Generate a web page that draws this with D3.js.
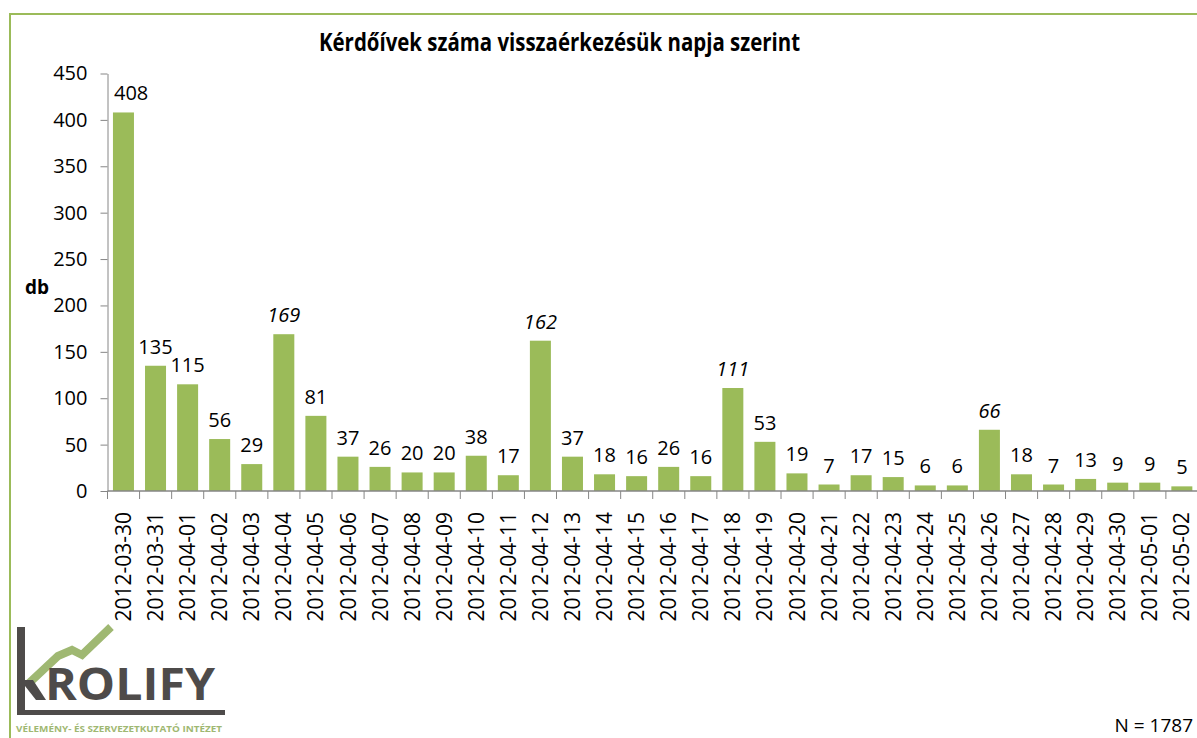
<!DOCTYPE html>
<html>
<head>
<meta charset="utf-8">
<script src="https://cdn.jsdelivr.net/npm/d3@7"></script>
<style>
  body { margin: 0; background: #fff; }
  svg { display: block; font-family: "Open Sans", "Liberation Sans", sans-serif; }
</style>
</head>
<body>
<script>
// napok es a visszaerkezett kerdoivek szama
let dates = ['2012-03-30', '2012-03-31', '2012-04-01', '2012-04-02', '2012-04-03', '2012-04-04',
    '2012-04-05', '2012-04-06', '2012-04-07', '2012-04-08', '2012-04-09', '2012-04-10',
    '2012-04-11', '2012-04-12', '2012-04-13', '2012-04-14', '2012-04-15', '2012-04-16',
    '2012-04-17', '2012-04-18', '2012-04-19', '2012-04-20', '2012-04-21', '2012-04-22',
    '2012-04-23', '2012-04-24', '2012-04-25', '2012-04-26', '2012-04-27', '2012-04-28',
    '2012-04-29', '2012-04-30', '2012-05-01', '2012-05-02'];
let counts = [408, 135, 115, 56, 29, 169, 81, 37, 26, 20, 20, 38, 17, 162, 37, 18, 16, 26,
    16, 111, 53, 19, 7, 17, 15, 6, 6, 66, 18, 7, 13, 9, 9, 5];
// dolt betuvel irt cimkek
let italicDates = ['2012-04-04', '2012-04-12', '2012-04-18', '2012-04-26'];
let yTicks = [0, 50, 100, 150, 200, 250, 300, 350, 400, 450];

let data = dates.map(function (d, i) {
    return {date: d, value: counts[i]};
});

let width = 1197, height = 738;
let green = '#9bbb59';

let svg = d3.select('body').append('svg')
    .attr('width', width)
    .attr('height', height);

// keret
svg.append('rect')
    .attr('x', 10).attr('y', 14)
    .attr('width', 1240).attr('height', 800)
    .attr('fill', 'none')
    .attr('stroke', green)
    .attr('stroke-width', 2);

let x = d3.scaleBand()
    .domain(dates)
    .range([107.5, 1197.8])
    .paddingInner(0.345)
    .paddingOuter(0.17);

let y = d3.scaleLinear()
    .domain([0, 450])
    .range([491, 73.5]);

// cim
svg.append('text')
    .attr('x', 319)
    .attr('y', 51)
    .attr('textLength', 481)
    .attr('lengthAdjust', 'spacingAndGlyphs')
    .style('font-size', '25px')
    .style('font-weight', 'bold')
    .text('Kérdőívek száma visszaérkezésük napja szerint');

// y tengely
let yAxis = svg.append('g')
    .attr('transform', 'translate(107.5,0)')
    .call(d3.axisLeft(y).tickValues(yTicks).tickSize(7).tickPadding(13).tickSizeOuter(0));
yAxis.select('.domain').attr('stroke', '#868686');
yAxis.selectAll('.tick line').attr('stroke', '#868686');
yAxis.selectAll('.tick text')
    .style('font-size', '20px')
    .style('font-family', '"Open Sans", sans-serif')
    .attr('fill', '#000');

svg.append('text')
    .attr('x', 25)
    .attr('y', 294)
    .style('font-size', '19px')
    .style('font-weight', 'bold')
    .text('db');

// oszlopok
svg.selectAll('rect.bar')
    .data(data)
    .enter()
    .append('rect')
    .attr('class', 'bar')
    .attr('x', function (d) { return x(d.date); })
    .attr('y', function (d) { return y(d.value); })
    .attr('width', x.bandwidth())
    .attr('height', function (d) { return y(0) - y(d.value); })
    .attr('fill', green);

// x tengely, a jelolok a kategoriak hataran
let step = x.step();
let xAxisG = svg.append('g');
xAxisG.append('line')
    .attr('x1', 107.5).attr('x2', 1197.8)
    .attr('y1', y(0)).attr('y2', y(0))
    .attr('stroke', '#868686')
    .attr('stroke-width', 1.5);
xAxisG.selectAll('line.tick')
    .data(d3.range(dates.length + 1))
    .enter()
    .append('line')
    .attr('class', 'tick')
    .attr('x1', function (i) { return 107.5 + i * step; })
    .attr('x2', function (i) { return 107.5 + i * step; })
    .attr('y1', y(0))
    .attr('y2', y(0) + 8)
    .attr('stroke', '#868686');

xAxisG.selectAll('text')
    .data(dates)
    .enter()
    .append('text')
    .attr('transform', function (d) {
        return 'translate(' + (x(d) + x.bandwidth() / 2) + ',' + (y(0) + 21) + ') rotate(-90)';
    })
    .attr('dy', '0.36em')
    .attr('text-anchor', 'end')
    .style('font-size', '21px')
    .text(function (d) { return d; });

// ertekcimkek
svg.selectAll('text.label')
    .data(data)
    .enter()
    .append('text')
    .attr('class', 'label')
    .attr('x', function (d) { return x(d.date) + x.bandwidth() / 2; })
    .attr('y', function (d) { return y(d.value) - 12; })
    .attr('text-anchor', 'middle')
    .style('font-size', '20px')
    .style('font-style', function (d) {
        return italicDates.indexOf(d.date) >= 0 ? 'italic' : 'normal';
    })
    .text(function (d) { return d.value; })
    .each(function () {
        // ne loghasson ra a tengelyre
        let t = d3.select(this);
        let w = this.getComputedTextLength();
        let cx = +t.attr('x');
        if (cx - w / 2 < 114) t.attr('x', 114 + w / 2);
    });

svg.append('text')
    .attr('x', 1193)
    .attr('y', 732)
    .attr('text-anchor', 'end')
    .style('font-size', '19px')
    .text('N = ' + d3.sum(counts));

// logo
let logo = svg.append('g').attr('class', 'logo');
let dark = '#4e4b4a';
logo.append('path')
    .attr('d', d3.line()([[27, 685], [58, 656], [72, 650], [82, 655], [111, 627]]))
    .attr('fill', 'none')
    .attr('stroke', '#9fb872')
    .attr('stroke-width', 8);
logo.append('rect')
    .attr('x', 17).attr('y', 627).attr('width', 8).attr('height', 88)
    .attr('fill', dark);
logo.append('rect')
    .attr('x', 17).attr('y', 710).attr('width', 208).attr('height', 5)
    .attr('fill', dark);
logo.append('path')
    .attr('d', d3.line()([[25, 680], [33, 680], [46, 700], [36, 700], [25, 686]]))
    .attr('fill', dark);
logo.append('text')
    .attr('x', 45)
    .attr('y', 700)
    .attr('textLength', 170)
    .attr('lengthAdjust', 'spacingAndGlyphs')
    .style('font-size', '44px')
    .style('font-weight', 'bold')
    .attr('fill', dark)
    .text('ROLIFY');
logo.append('text')
    .attr('x', 16)
    .attr('y', 732)
    .attr('textLength', 206)
    .attr('lengthAdjust', 'spacingAndGlyphs')
    .style('font-size', '9px')
    .style('font-weight', 'bold')
    .attr('fill', '#9fb872')
    .text('VÉLEMÉNY- ÉS SZERVEZETKUTATÓ INTÉZET');
</script>
</body>
</html>
